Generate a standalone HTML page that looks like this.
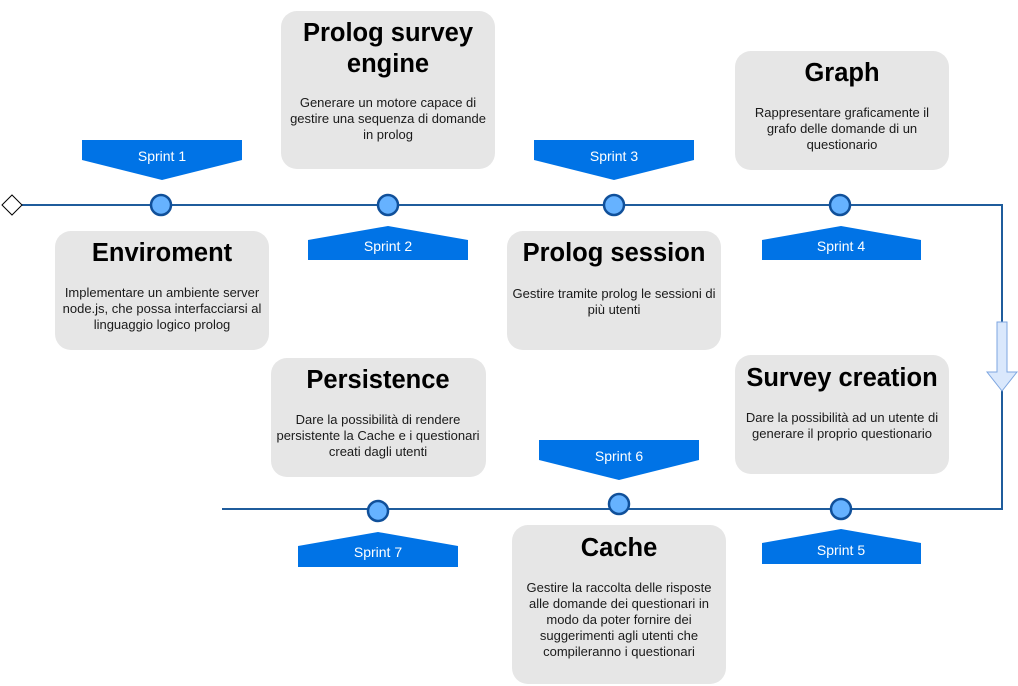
<!DOCTYPE html>
<html><head><meta charset="utf-8"><style>
html,body{margin:0;padding:0;background:#fff;width:1018px;height:686px;overflow:hidden}
svg{display:block}
.t{font-family:"Liberation Sans",Arial,sans-serif;font-weight:bold;font-size:25.5px;fill:#000;text-anchor:middle}
.b{font-family:"Liberation Sans",Arial,sans-serif;font-size:13px;fill:#1a1a1a;text-anchor:middle}
.s{font-family:"Liberation Sans",Arial,sans-serif;font-size:14px;fill:#fff;text-anchor:middle}
</style></head><body>
<svg width="1018" height="686" viewBox="0 0 1018 686">
<g fill="#e6e6e6">
<rect x="55" y="231" width="214" height="119" rx="16"/>
<rect x="281" y="11" width="214" height="158" rx="16"/>
<rect x="507" y="231" width="214" height="119" rx="16"/>
<rect x="735" y="51" width="214" height="119" rx="16"/>
<rect x="271" y="358" width="215" height="119" rx="16"/>
<rect x="735" y="355" width="214" height="119" rx="16"/>
<rect x="512" y="525" width="214" height="159" rx="16"/>
</g>
<polyline points="22,205 1002,205 1002,509 222,509" fill="none" stroke="#1f5c9c" stroke-width="2"/>
<polygon points="2,205 12,195 22,205 12,215" fill="#fff" stroke="#000" stroke-width="1"/>
<polygon points="997,322 1007,322 1007,372 1017,372 1002,391 987,372 997,372" fill="#dae8fc" stroke="#7ea6e0" stroke-width="1"/>
<g fill="#0073e6">
<polygon points="82,140 242,140 242,160 162,180 82,160"/>
<polygon points="534,140 694,140 694,160 614,180 534,160"/>
<polygon points="539,440 699,440 699,460 619,480 539,460"/>
<polygon points="308,240 388,226 468,240 468,260 308,260"/>
<polygon points="762,240 841,226 921,240 921,260 762,260"/>
<polygon points="298,546 378,532 458,546 458,567 298,567"/>
<polygon points="762,543 841,529 921,543 921,564 762,564"/>
</g>
<text class="s" x="162" y="161">Sprint 1</text>
<text class="s" x="614" y="161">Sprint 3</text>
<text class="s" x="619" y="461">Sprint 6</text>
<text class="s" x="388" y="251">Sprint 2</text>
<text class="s" x="841" y="251">Sprint 4</text>
<text class="s" x="378" y="557">Sprint 7</text>
<text class="s" x="841" y="555">Sprint 5</text>
<g fill="#66b2ff" stroke="#10509a" stroke-width="2.5">
<circle cx="161" cy="205" r="10"/>
<circle cx="388" cy="205" r="10"/>
<circle cx="614" cy="205" r="10"/>
<circle cx="840" cy="205" r="10"/>
<circle cx="378" cy="511" r="10"/>
<circle cx="619" cy="504" r="10"/>
<circle cx="841" cy="509" r="10"/>
</g>
<text class="t" x="162" y="261">Enviroment</text>
<text class="b" x="162" y="297">Implementare un ambiente server</text>
<text class="b" x="162" y="313">node.js, che possa interfacciarsi al</text>
<text class="b" x="162" y="329">linguaggio logico prolog</text>

<text class="t" x="388" y="41">Prolog survey</text>
<text class="t" x="388" y="72">engine</text>
<text class="b" x="388" y="107">Generare un motore capace di</text>
<text class="b" x="388" y="123">gestire una sequenza di domande</text>
<text class="b" x="388" y="139">in prolog</text>

<text class="t" x="842" y="81">Graph</text>
<text class="b" x="842" y="117">Rappresentare graficamente il</text>
<text class="b" x="842" y="133">grafo delle domande di un</text>
<text class="b" x="842" y="149">questionario</text>

<text class="t" x="614" y="261">Prolog session</text>
<text class="b" x="614" y="298">Gestire tramite prolog le sessioni di</text>
<text class="b" x="614" y="314">più utenti</text>

<text class="t" x="378" y="388">Persistence</text>
<text class="b" x="378" y="424">Dare la possibilità di rendere</text>
<text class="b" x="378" y="440">persistente la Cache e i questionari</text>
<text class="b" x="378" y="456">creati dagli utenti</text>

<text class="t" x="842" y="386">Survey creation</text>
<text class="b" x="842" y="422">Dare la possibilità ad un utente di</text>
<text class="b" x="842" y="438">generare il proprio questionario</text>

<text class="t" x="619" y="556">Cache</text>
<text class="b" x="619" y="592">Gestire la raccolta delle risposte</text>
<text class="b" x="619" y="608">alle domande dei questionari in</text>
<text class="b" x="619" y="624">modo da poter fornire dei</text>
<text class="b" x="619" y="640">suggerimenti agli utenti che</text>
<text class="b" x="619" y="656">compileranno i questionari</text>
</svg>
</body></html>
